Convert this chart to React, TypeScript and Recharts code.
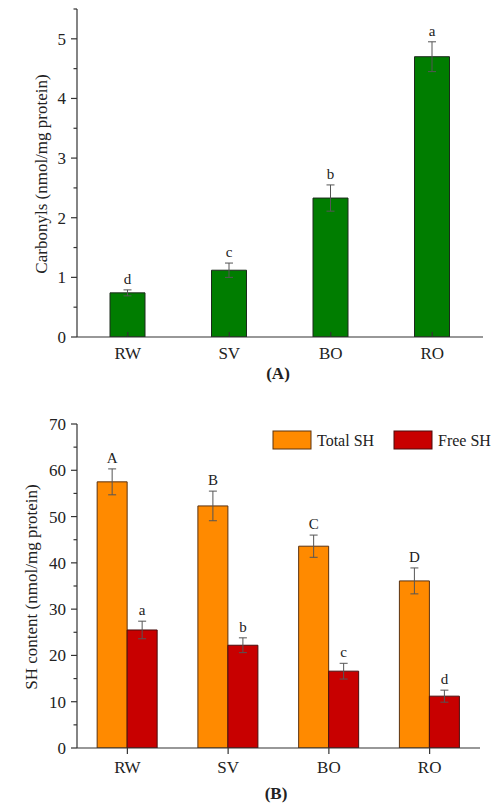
import React from 'react';
import { ComposedChart, Bar, XAxis, YAxis, ErrorBar, LabelList } from 'recharts';

const categories = ['RW', 'SV', 'BO', 'RO'];

const carbonyls = [0.74, 1.12, 2.33, 4.7];
const carbonylsErr = [0.05, 0.12, 0.22, 0.25];
const carbonylsLetters = ['d', 'c', 'b', 'a'];
const carbonylTicks = [0, 0.5, 1, 1.5, 2, 2.5, 3, 3.5, 4, 4.5, 5, 5.5];

const totalSH = [57.5, 52.3, 43.6, 36.1];
const totalSHErr = [2.8, 3.2, 2.4, 2.8];
const totalLetters = ['A', 'B', 'C', 'D'];
const freeSH = [25.5, 22.2, 16.6, 11.2];
const freeSHErr = [1.9, 1.6, 1.7, 1.3];
const freeLetters = ['a', 'b', 'c', 'd'];
const shTicks = [0, 5, 10, 15, 20, 25, 30, 35, 40, 45, 50, 55, 60, 65, 70];
const seriesNames = ['Total SH', 'Free SH'];

const FONT = '"Liberation Serif", "Times New Roman", serif';
const GREEN = '#007d00';
const ORANGE = '#ff8a00';
const RED = '#c80000';
const AXIS = '#333';
const TXT = '#222';

const dataA = categories.map((c, i) => ({
  cat: c,
  value: carbonyls[i],
  err: carbonylsErr[i],
  letter: carbonylsLetters[i],
}));

const dataB = categories.map((c, i) => ({
  cat: c,
  total: totalSH[i],
  totalErr: totalSHErr[i],
  totalLetter: totalLetters[i],
  free: freeSH[i],
  freeErr: freeSHErr[i],
  freeLetter: freeLetters[i],
}));

const TS = 6;
const TM = 5;

const makeYTick = (majorStep: number) => (props: any) => {
  const { x, y, payload } = props;
  const v = payload.value;
  const major = Math.abs(v / majorStep - Math.round(v / majorStep)) < 1e-6;
  const ax = x + TS + TM;
  return (
    <g>
      <line x1={ax} x2={ax - (major ? 6 : 3.5)} y1={y} y2={y} stroke={AXIS} strokeWidth={1.2} />
      {major && (
        <text x={x} y={y} dy="0.355em" textAnchor="end" fontFamily={FONT} fontSize={17} fill={TXT}>
          {v}
        </text>
      )}
    </g>
  );
};

const XTickInward = (props: any) => {
  const { x, y, payload } = props;
  const ay = y - 10;
  return (
    <g>
      <line x1={x} x2={x} y1={ay} y2={ay - 5} stroke={AXIS} strokeWidth={1.2} />
      <text x={x} y={y} dy="0.71em" textAnchor="middle" fontFamily={FONT} fontSize={17} fill={TXT}>
        {payload.value}
      </text>
    </g>
  );
};

const XTickOut = (props: any) => {
  const { x, y, payload } = props;
  return (
    <text x={x} y={y} dy="0.71em" textAnchor="middle" fontFamily={FONT} fontSize={17} fill={TXT}>
      {payload.value}
    </text>
  );
};

const letterStyle = { fontFamily: FONT, fontSize: 15, fill: TXT };

export default function App() {
  return (
    <div style={{ position: 'absolute', left: 0, top: 0, width: 500, height: 810, background: '#fff' }}>
      <div style={{ position: 'absolute', left: 0, top: 0 }}>
        <ComposedChart
          width={500}
          height={385}
          data={dataA}
          margin={{ top: 9, right: 17, bottom: 18, left: 17 }}
        >
          <XAxis
            dataKey="cat"
            height={30}
            tickSize={6}
            tickMargin={4}
            tickLine={false}
            tick={<XTickInward />}
            axisLine={{ stroke: AXIS, strokeWidth: 1.2 }}
          />
          <YAxis
            width={60}
            domain={[0, 5.5]}
            ticks={carbonylTicks}
            interval={0}
            allowDataOverflow
            tickSize={TS}
            tickMargin={TM}
            tickLine={false}
            tick={makeYTick(1)}
            axisLine={{ stroke: AXIS, strokeWidth: 1.2 }}
          />
          <Bar dataKey="value" stackId="a" barSize={35} fill={GREEN} stroke="#1c2a1c" strokeWidth={1} isAnimationActive={false}>
            <ErrorBar dataKey="err" width={4} stroke="#555" strokeWidth={1} />
          </Bar>
          <Bar dataKey="err" stackId="a" barSize={35} fill="transparent" isAnimationActive={false}>
            <LabelList dataKey="letter" position="top" offset={6} style={letterStyle} />
          </Bar>
        </ComposedChart>
      </div>
      <div style={{ position: 'absolute', left: 0, top: 390 }}>
        <ComposedChart
          width={500}
          height={420}
          data={dataB}
          barCategoryGap="20%"
          barGap={0}
          margin={{ top: 34, right: 20, bottom: 32, left: 17 }}
        >
          <XAxis
            dataKey="cat"
            height={30}
            tickSize={6}
            tickMargin={7}
            tickLine={{ stroke: AXIS, strokeWidth: 1.2 }}
            tick={<XTickOut />}
            axisLine={{ stroke: AXIS, strokeWidth: 1.2 }}
          />
          <YAxis
            width={60}
            domain={[0, 70]}
            ticks={shTicks}
            interval={0}
            allowDataOverflow
            tickSize={TS}
            tickMargin={TM}
            tickLine={false}
            tick={makeYTick(10)}
            axisLine={{ stroke: AXIS, strokeWidth: 1.2 }}
          />
          <Bar dataKey="total" stackId="t" fill={ORANGE} stroke="#5a3210" strokeWidth={1} isAnimationActive={false}>
            <ErrorBar dataKey="totalErr" width={4} stroke="#555" strokeWidth={1} />
          </Bar>
          <Bar dataKey="totalErr" stackId="t" fill="transparent" isAnimationActive={false}>
            <LabelList dataKey="totalLetter" position="top" offset={6} style={letterStyle} />
          </Bar>
          <Bar dataKey="free" stackId="f" fill={RED} stroke="#4a0d0d" strokeWidth={1} isAnimationActive={false}>
            <ErrorBar dataKey="freeErr" width={4} stroke="#555" strokeWidth={1} />
          </Bar>
          <Bar dataKey="freeErr" stackId="f" fill="transparent" isAnimationActive={false}>
            <LabelList dataKey="freeLetter" position="top" offset={6} style={letterStyle} />
          </Bar>
        </ComposedChart>
      </div>
      <svg
        width={500}
        height={810}
        style={{ position: 'absolute', left: 0, top: 0, pointerEvents: 'none' }}
      >
        <text
          transform="translate(47,174) rotate(-90)"
          textAnchor="middle"
          fontFamily={FONT}
          fontSize={17}
          fill={TXT}
        >
          Carbonyls (nmol/mg protein)
        </text>
        <text x={278} y={379} textAnchor="middle" fontFamily={FONT} fontSize={17} fontWeight="bold" fill={TXT}>
          (A)
        </text>
        <text
          transform="translate(37,587) rotate(-90)"
          textAnchor="middle"
          fontFamily={FONT}
          fontSize={17}
          fill={TXT}
        >
          SH content (nmol/mg protein)
        </text>
        <text x={276} y={799} textAnchor="middle" fontFamily={FONT} fontSize={17} fontWeight="bold" fill={TXT}>
          (B)
        </text>
        {seriesNames.map((name, i) => {
          const bx = i === 0 ? 273 : 394;
          return (
            <g key={name}>
              <rect
                x={bx}
                y={431}
                width={38}
                height={18}
                fill={i === 0 ? ORANGE : RED}
                stroke={i === 0 ? '#5a3210' : '#4a0d0d'}
                strokeWidth={1}
              />
              <text x={bx + 44} y={446} fontFamily={FONT} fontSize={16} fill={TXT}>
                {name}
              </text>
            </g>
          );
        })}
      </svg>
    </div>
  );
}
